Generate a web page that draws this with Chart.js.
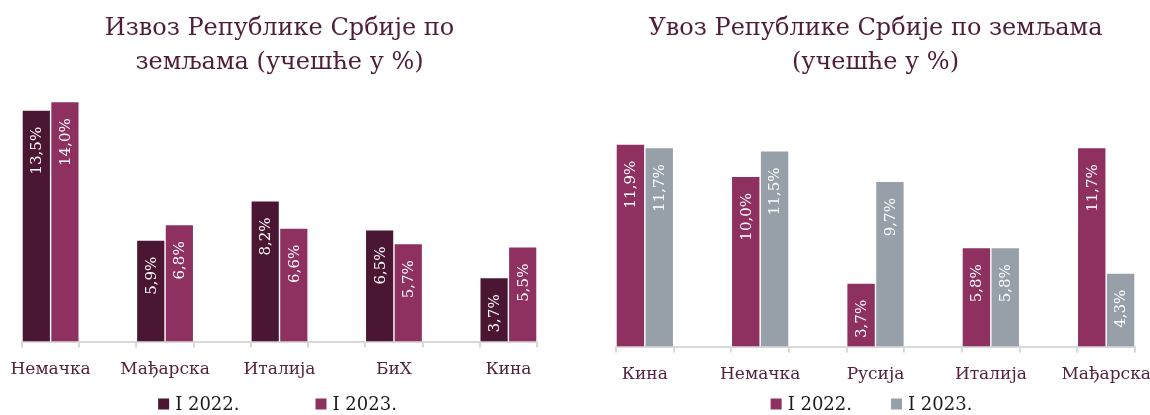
<!DOCTYPE html>
<html>
<head>
<meta charset="utf-8">
<script src="https://cdn.jsdelivr.net/npm/chart.js@4"></script>
<style>
  body { margin: 0; background: #fff; }
  .wrap { display: flex; width: 1150px; height: 415px; }
  .box { width: 575px; height: 415px; }
</style>
</head>
<body>
<div class="wrap">
  <div class="box"><canvas id="izvoz" width="575" height="415"></canvas></div>
  <div class="box"><canvas id="uvoz" width="575" height="415"></canvas></div>
</div>
<script>
Chart.defaults.font.family = "'DejaVu Serif', 'Liberation Serif', serif";
Chart.defaults.color = '#55213f';

//data
const exportCountries = ['Немачка', 'Мађарска', 'Италија', 'БиХ', 'Кина'];
const export2022 = [13.5, 5.9, 8.2, 6.5, 3.7];
const export2023 = [14.0, 6.8, 6.6, 5.7, 5.5];

const importCountries = ['Кина', 'Немачка', 'Русија', 'Италија', 'Мађарска'];
const import2022 = [11.9, 10.0, 3.7, 5.8, 11.7];
const import2023 = [11.7, 11.5, 9.7, 5.8, 4.3];

const seriesNames = ['I 2022.', 'I 2023.'];

const DARK = '#4b1632';
const PINK = '#8e3060';
const GREY = '#97a0a8';
const TEXT = '#55213f';
const AXIS = '#d9d9d9';

function points(values) {
    return values.map((v, i) => ({x: i, y: v}));
}

function fmt(v) {
    return v.toFixed(1).replace('.', ',') + '%';
}

//rotated value labels inside the bars
const barLabels = {
    id: 'barLabels',
    afterDatasetsDraw(chart) {
        const ctx = chart.ctx;
        ctx.save();
        ctx.fillStyle = '#ffffff';
        ctx.font = "15px 'DejaVu Serif', serif";
        ctx.textAlign = 'right';
        ctx.textBaseline = 'middle';
        chart.data.datasets.forEach((ds, di) => {
            chart.getDatasetMeta(di).data.forEach((bar, i) => {
                ctx.save();
                ctx.translate(bar.x + 1, bar.y + 16);
                ctx.rotate(-Math.PI / 2);
                ctx.fillText(fmt(ds.data[i].y), 0, 0);
                ctx.restore();
            });
        });
        ctx.restore();
    }
};

//small tick marks at the edges of every bar group
const groupTicks = {
    id: 'groupTicks',
    afterDraw(chart) {
        const x = chart.scales.x;
        const ctx = chart.ctx;
        const y0 = chart.chartArea.bottom;
        ctx.save();
        ctx.strokeStyle = AXIS;
        ctx.lineWidth = 2;
        chart.data.datasets[0].data.forEach((p) => {
            [p.x - 0.25, p.x + 0.25].forEach((v) => {
                const px = Math.round(x.getPixelForValue(v));
                ctx.beginPath();
                ctx.moveTo(px, y0);
                ctx.lineTo(px, y0 + 6);
                ctx.stroke();
            });
        });
        ctx.restore();
    }
};

//legend row drawn under the axis
const rowLegend = {
    id: 'rowLegend',
    afterDraw(chart, args, opts) {
        const ctx = chart.ctx;
        const box = 11;
        ctx.save();
        ctx.font = "18px 'DejaVu Serif', serif";
        ctx.textBaseline = 'middle';
        ctx.textAlign = 'left';
        const items = chart.data.datasets.map((ds) => ({
            text: ds.label,
            color: ds.backgroundColor,
            w: box + 6 + ctx.measureText(ds.label).width
        }));
        const total = items.reduce((s, it) => s + it.w, 0) + opts.gap * (items.length - 1);
        const area = chart.chartArea;
        let x = (area.left + area.right) / 2 - total / 2 + opts.shift;
        items.forEach((it) => {
            ctx.fillStyle = it.color;
            ctx.fillRect(x, opts.y - box / 2, box, box);
            ctx.fillStyle = '#1c1c1c';
            ctx.fillText(it.text, x + box + 6, opts.y + 1);
            x += it.w + opts.gap;
        });
        ctx.restore();
    }
};

function makeOptions(cats, title, titleGap, pad, tickPad, legend) {
    return {
        responsive: false,
        animation: false,
        layout: {padding: pad},
        datasets: {
            bar: {categoryPercentage: 0.5, barPercentage: 0.95}
        },
        scales: {
            x: {
                type: 'linear',
                offset: false,
                min: -0.25,
                max: cats.length - 0.75,
                afterBuildTicks: (scale) => {
                    scale.ticks = cats.map((c, i) => ({value: i}));
                },
                afterFit: (scale) => {
                    scale.paddingLeft = 0;
                    scale.paddingRight = 0;
                },
                ticks: {
                    padding: tickPad,
                    color: TEXT,
                    maxRotation: 0,
                    autoSkip: false,
                    font: {size: 17},
                    callback: (v) => cats[v]
                },
                grid: {display: false},
                border: {display: true, color: AXIS, width: 2}
            },
            y: {
                display: false,
                min: 0,
                max: 15
            }
        },
        plugins: {
            legend: {display: false},
            tooltip: {enabled: false},
            title: {
                display: true,
                text: title,
                color: '#4f1d3a',
                font: {size: 24, weight: 'normal', lineHeight: 1.4},
                padding: {top: 12, bottom: titleGap}
            },
            rowLegend: legend
        }
    };
}

//izvoz
new Chart(document.getElementById('izvoz'), {
    type: 'bar',
    data: {
        datasets: [
            {label: seriesNames[0], data: points(export2022), backgroundColor: DARK},
            {label: seriesNames[1], data: points(export2023), backgroundColor: PINK}
        ]
    },
    options: makeOptions(exportCountries,
        ['Извоз Републике Србије по', 'земљама (учешће у %)'],
        6, {left: 22, right: 38, top: 0, bottom: 25}, 10,
        {y: 404, gap: 76, shift: -2}),
    plugins: [barLabels, groupTicks, rowLegend]
});

//uvoz
new Chart(document.getElementById('uvoz'), {
    type: 'bar',
    data: {
        datasets: [
            {label: seriesNames[0], data: points(import2022), backgroundColor: PINK},
            {label: seriesNames[1], data: points(import2023), backgroundColor: GREY}
        ]
    },
    options: makeOptions(importCountries,
        ['Увоз Републике Србије по земљама', '(учешће у %)'],
        13, {left: 41, right: 15, top: 0, bottom: 20}, 10,
        {y: 404, gap: 39, shift: -4}),
    plugins: [barLabels, groupTicks, rowLegend]
});
</script>
</body>
</html>
